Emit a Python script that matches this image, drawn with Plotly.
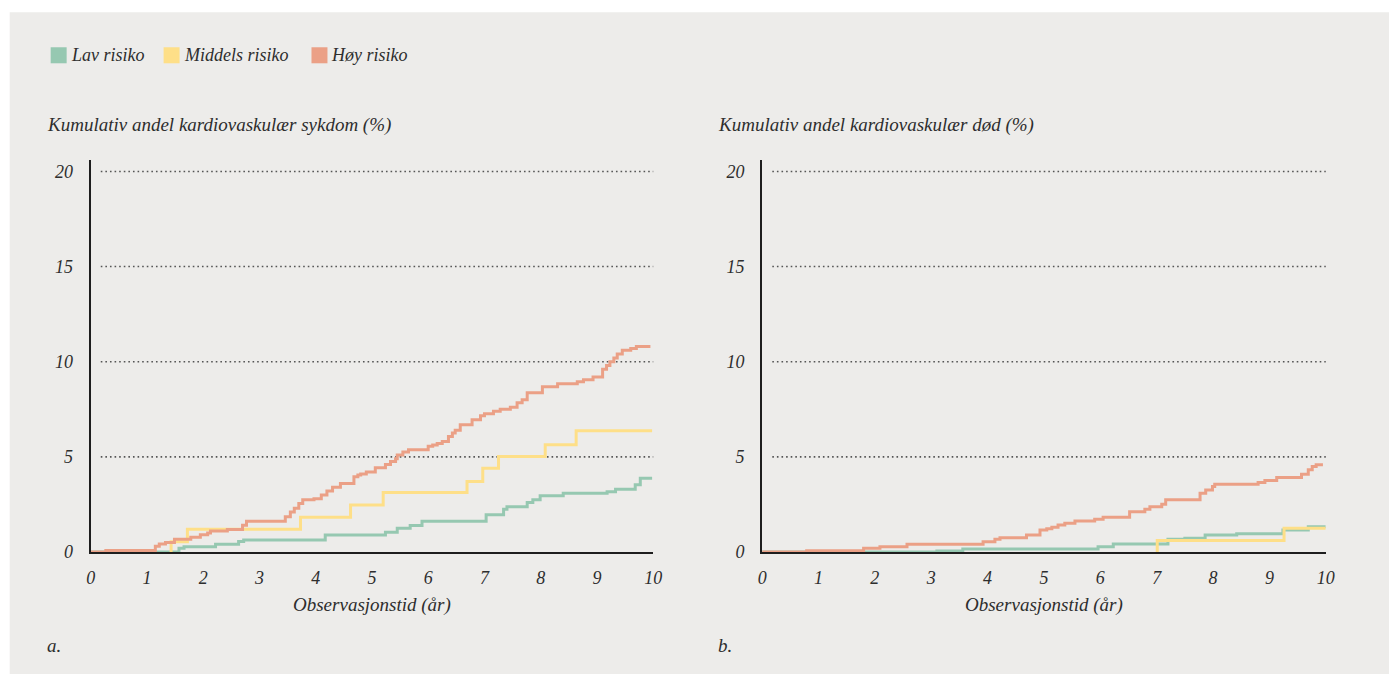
import plotly.graph_objects as go

# ---------------- data ----------------
series_names = ["Lav risiko", "Middels risiko", "Høy risiko"]
series_colors = ["#96C8B1", "#FEDF88", "#EBA086"]

x_ticks = [0, 1, 2, 3, 4, 5, 6, 7, 8, 9, 10]
y_ticks = [0, 5, 10, 15, 20]

panel_titles = ["Kumulativ andel kardiovaskulær sykdom (%)",
                "Kumulativ andel kardiovaskulær død (%)"]
x_title = "Observasjonstid (år)"
panel_labels = ["a.", "b."]

# Panel a: cardiovascular disease
a_lav_t = [0, 1.57, 1.66, 2.22, 2.63, 2.72, 4.17, 5.24, 5.45, 5.68, 5.89, 7.03, 7.34, 7.40,
           7.76, 7.86, 7.99, 8.40, 9.18, 9.33, 9.68, 9.77, 9.98]
a_lav_v = [0, 0.20, 0.28, 0.40, 0.55, 0.63, 0.89, 1.03, 1.25, 1.39, 1.62, 1.95, 2.25, 2.38,
           2.60, 2.75, 2.95, 3.09, 3.17, 3.30, 3.53, 3.88, 3.88]

a_mid_t = [1.42, 1.43, 1.72, 3.73, 4.62, 5.20, 6.69, 6.97, 7.25, 8.08, 8.63, 9.98]
a_mid_v = [0, 0.54, 1.19, 1.83, 2.47, 3.12, 3.70, 4.40, 5.02, 5.63, 6.37, 6.37]

a_hoy_t = [0, 0.27, 1.15, 1.22, 1.33, 1.49, 1.78, 1.95, 2.08, 2.13, 2.43, 2.70, 2.77,
           3.46, 3.55, 3.62, 3.70, 3.77, 3.97, 4.10, 4.20, 4.30, 4.44, 4.68, 4.75, 4.80,
           4.90, 5.06, 5.24, 5.33, 5.42, 5.45, 5.55, 5.65, 6.00, 6.08, 6.16, 6.25, 6.36,
           6.43, 6.48, 6.57, 6.78, 6.93, 7.00, 7.16, 7.28, 7.46, 7.58, 7.67, 7.76, 8.03,
           8.30, 8.65, 8.76, 8.93, 9.10, 9.17, 9.23, 9.30, 9.36, 9.45, 9.60, 9.70, 9.95]
a_hoy_v = [0, 0.08, 0.30, 0.42, 0.50, 0.67, 0.77, 0.90, 1.00, 1.10, 1.18, 1.40, 1.62,
           1.85, 2.10, 2.30, 2.55, 2.74, 2.80, 3.00, 3.20, 3.40, 3.60, 3.95, 4.05, 4.10,
           4.20, 4.42, 4.60, 4.75, 4.90, 5.10, 5.25, 5.37, 5.55, 5.62, 5.70, 5.80, 6.07,
           6.25, 6.40, 6.68, 6.95, 7.16, 7.26, 7.40, 7.50, 7.60, 7.84, 8.00, 8.37, 8.68,
           8.84, 8.95, 9.05, 9.20, 9.60, 9.80, 10.00, 10.20, 10.40, 10.60, 10.70, 10.80, 10.80]

# Panel b: cardiovascular death
b_lav_t = [0, 3.10, 3.56, 5.96, 6.23, 7.20, 7.50, 7.86, 8.42, 9.24, 9.69, 10.0]
b_lav_v = [0, 0.05, 0.16, 0.28, 0.42, 0.67, 0.72, 0.89, 0.96, 1.16, 1.33, 1.33]

b_mid_t = [6.99, 7.01, 9.26, 10.0]
b_mid_v = [0, 0.60, 1.25, 1.25]

b_hoy_t = [0, 0.79, 1.80, 2.09, 2.57, 3.92, 4.13, 4.22, 4.69, 4.93, 5.05, 5.14, 5.25, 5.37,
           5.55, 5.90, 6.05, 6.52, 6.79, 6.88, 7.09, 7.16, 7.77, 7.87, 7.99, 8.03, 8.80,
           8.92, 9.13, 9.57, 9.69, 9.76, 9.83, 9.95]
b_hoy_v = [0, 0.07, 0.19, 0.28, 0.40, 0.54, 0.67, 0.75, 0.89, 1.16, 1.22, 1.30, 1.42, 1.51,
           1.63, 1.72, 1.82, 2.12, 2.25, 2.38, 2.51, 2.74, 3.09, 3.26, 3.44, 3.56, 3.65,
           3.75, 3.91, 4.09, 4.32, 4.49, 4.58, 4.58]

panels = [
    [(a_lav_t, a_lav_v), (a_mid_t, a_mid_v), (a_hoy_t, a_hoy_v)],
    [(b_lav_t, b_lav_v), (b_mid_t, b_mid_v), (b_hoy_t, b_hoy_v)],
]

# ---------------- style ----------------
W, H = 1398, 684
BG = "#EDECEA"
TXT = "#2E2E2E"
FONT = "Liberation Serif"
FS = 18
FS_TITLE = 19


# layout positions are given as target-picture pixels; convert to paper fractions
def px(x):
    return ((x - 4.3) / 0.9907) / W


def py(y):
    return 1 - ((y - 0.8) / 0.984) / H


fig = go.Figure()

x_domains = [[px(90), px(653)], [px(762), px(1326)]]
y_domain = [py(552), py(160.6)]
Y_MAX = 20.6

for p, series in enumerate(panels):
    xa = "x" if p == 0 else "x2"
    ya = "y" if p == 0 else "y2"
    for (t, v), name, col in zip(series, series_names, series_colors):
        fig.add_trace(go.Scatter(
            x=t, y=v, mode="lines", name=name, showlegend=False,
            line=dict(color=col, width=3, shape="hv"),
            xaxis=xa, yaxis=ya, hoverinfo="skip"))

axis_common = dict(showgrid=False, zeroline=False, showline=True, linecolor="#1E1E1E",
                   linewidth=2, ticks="", layer="above traces", fixedrange=True,
                   tickfont=dict(family=FONT, size=FS, color=TXT, style="italic"))

fig.update_layout(
    width=W, height=H, autosize=False,
    margin=dict(l=0, r=0, t=0, b=0),
    paper_bgcolor="white", plot_bgcolor="rgba(0,0,0,0)",
    showlegend=False, dragmode=False,
    xaxis=dict(domain=x_domains[0], range=[0, 10], tickvals=x_ticks, anchor="y",
               ticklabelstandoff=8, **axis_common),
    yaxis=dict(domain=y_domain, range=[0, Y_MAX], tickvals=y_ticks, anchor="x",
               ticklabelstandoff=12, **axis_common),
    xaxis2=dict(domain=x_domains[1], range=[0, 10], tickvals=x_ticks, anchor="y2",
                ticklabelstandoff=8, **axis_common),
    yaxis2=dict(domain=y_domain, range=[0, Y_MAX], tickvals=y_ticks, anchor="x2",
                ticklabelstandoff=12, **axis_common),
)

shapes = [dict(type="rect", xref="paper", yref="paper", x0=px(9), x1=1, y0=0, y1=py(13),
               fillcolor=BG, line=dict(width=0), layer="below")]
for p in range(2):
    xd = "x domain" if p == 0 else "x2 domain"
    ya = "y" if p == 0 else "y2"
    for g in y_ticks[1:]:
        shapes.append(dict(type="line", xref=xd, yref=ya, x0=0.018, x1=1, y0=g, y1=g,
                           line=dict(color="#555555", width=1.6, dash="1.6px,3px"),
                           layer="below"))

ann = []
font = dict(family=FONT, size=FS, color=TXT, style="italic")
tfont = dict(family=FONT, size=FS_TITLE, color=TXT, style="italic")
for p in range(2):
    x0 = [44, 716][p]
    cx = [371.5, 1044][p]
    ann.append(dict(text=panel_titles[p], xref="paper", yref="paper", x=px(x0), y=py(126),
                    xanchor="left", yanchor="middle", showarrow=False, font=tfont))
    ann.append(dict(text=x_title, xref="paper", yref="paper", x=px(cx), y=py(605),
                    xanchor="center", yanchor="middle", showarrow=False, font=tfont))
    ann.append(dict(text=panel_labels[p], xref="paper", yref="paper", x=px(x0), y=py(645),
                    xanchor="left", yanchor="middle", showarrow=False, font=tfont))

# legend (swatches + labels)
leg_sw_x = [50, 163, 311]
for name, col, sx in zip(series_names, series_colors, leg_sw_x):
    shapes.append(dict(type="rect", xref="paper", yref="paper",
                       x0=px(sx), x1=px(sx + 16), y0=py(64), y1=py(48),
                       fillcolor=col, line=dict(width=0)))
    ann.append(dict(text=name, xref="paper", yref="paper", x=px(sx + 18), y=py(56),
                    xanchor="left", yanchor="middle", showarrow=False, font=font))

fig.update_layout(shapes=shapes, annotations=ann)

fig.write_html(
    "out.html",
    config={"responsive": False, "displayModeBar": False, "staticPlot": True},
    post_script=(
        "document.documentElement.style.background='#EDECEA';"
        "document.body.style.background='#EDECEA';"
        "document.body.style.margin='0';document.body.style.overflow='hidden';"
    ),
)
